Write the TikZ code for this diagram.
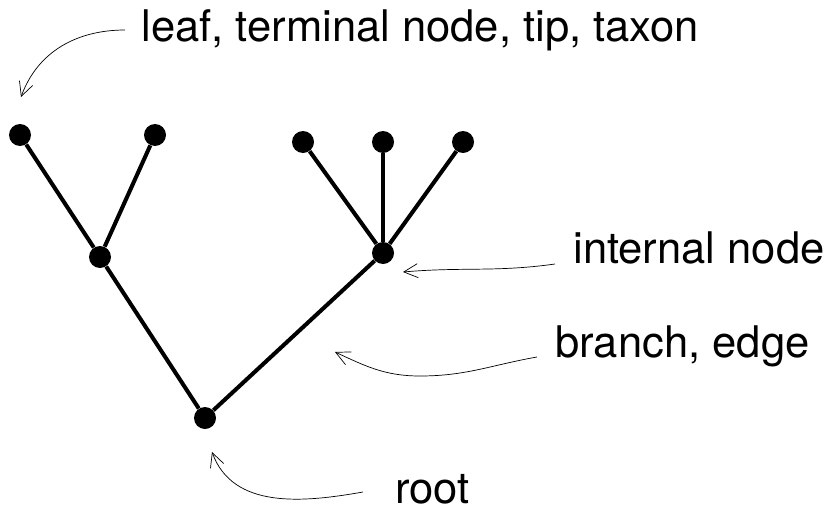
\documentclass[tikz,border=0pt]{standalone}
\usepackage{fontspec}
\setsansfont{TeX Gyre Heros}
\usetikzlibrary{%
	positioning,
	arrows.meta
}

\begin{document}
\begin{tikzpicture}[x=0.02cm,y=-0.02cm,
		vertex/.style={circle,fill=black,inner sep=0pt,minimum size=22*0.02cm},
		branchline/.style={line width=2.3pt},
		label/.style={font=\sffamily\fontsize{24.8}{29}\selectfont,inner sep=0pt,anchor=base west},
		pointer/.style={thin,-{Straight Barb[length=8pt,width=8pt]}}
	]
	\useasboundingbox (0,0) rectangle (827,510);
	
	%tree
	\node (leaf1) [vertex] at (20,135) {};
	\node (leaf2) [vertex] at (155,135) {};
	\node (inner1) [vertex] at (100,257) {};
	\node (leaf3) [vertex] at (303,142) {};
	\node (leaf4) [vertex] at (383,142) {};
	\node (leaf5) [vertex] at (463,142) {};
	\node (inner2) [vertex] at (383,253) {};
	\node (root) [vertex] at (205,418) {};
	
	\draw [branchline] (leaf1) -- (inner1) -- (root) -- (inner2);
	\draw [branchline] (leaf2) -- (inner1);
	\foreach \l in {leaf3,leaf4,leaf5}
		\draw [branchline] (\l) -- (inner2);
	
	%labels
	\node (lbl-leaf) [label] at (141,42) {leaf, terminal node, tip, taxon};
	\node (lbl-inner) [label] at (573,263) {internal node};
	\node (lbl-branch) [label] at (555,357) {branch, edge};
	\node (lbl-root) [label] at (395,503) {root};
	
	\coordinate (tip-leaf) at (21,97);
	\coordinate (tip-inner) at (403,272);
	\coordinate (tip-branch) at (335,352);
	\coordinate (tip-root) at (212,452);
	
	\draw [pointer] (125,30) to [out=180,in=70] (tip-leaf);
	\draw [pointer] ([xshift=-18*0.02cm,yshift=-0.02cm]lbl-inner.base west) to [out=188,in=5] (tip-inner);
	\draw [pointer] ([xshift=-18*0.02cm]lbl-branch.base west) to [out=190,in=0] (420,376) to [out=180,in=-25] (tip-branch);
	\draw [pointer] ([xshift=-32*0.02cm,yshift=11*0.02cm]lbl-root.base west) to [out=190,in=-70] (tip-root);
	
\end{tikzpicture}
\end{document}
